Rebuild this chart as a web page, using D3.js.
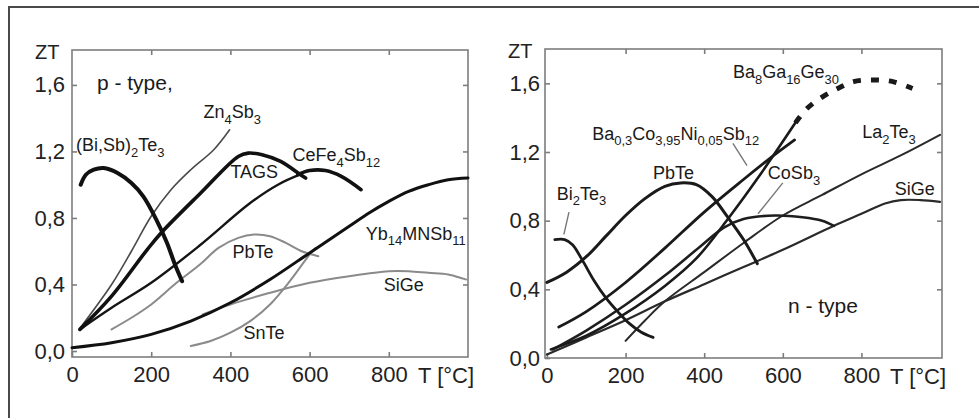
<!DOCTYPE html>
<html>
<head>
<meta charset="utf-8">
<script src="https://cdn.jsdelivr.net/npm/d3@7"></script>
<style>
  body { margin: 0; background: #fff; }
  svg { display: block; font-family: "Liberation Sans", Arial, sans-serif; }
</style>
</head>
<body>
<svg width="979" height="418"></svg>
<script>
// ---- data: [T in °C, ZT] ----
// p-type
const pBiSbTe = [[22,1.0],[35,1.06],[55,1.09],[80,1.1],[115,1.07],[150,1.01],[180,0.93],[215,0.78],[240,0.65],[260,0.52],[278,0.42]];
const pZn4Sb3 = [[18,0.13],[100,0.40],[150,0.60],[200,0.81],[250,0.97],[300,1.09],[358,1.21],[398,1.33]];
const pTAGS = [[20,0.13],[100,0.33],[190,0.61],[225,0.71],[325,0.95],[420,1.17],[445,1.19],[480,1.18],[527,1.14],[577,1.06],[590,1.04]];
const pCeFe4Sb12 = [[20,0.13],[100,0.26],[200,0.41],[320,0.63],[450,0.89],[520,1.0],[575,1.06]];
const pCeFe4Sb12High = [[570,1.06],[600,1.085],[640,1.085],[680,1.05],[730,0.97]];
const pPbTe = [[100,0.13],[150,0.20],[200,0.28],[264,0.41],[323,0.52],[370,0.62],[420,0.68],[460,0.70],[500,0.69],[540,0.65],[580,0.60],[622,0.57]];
const pSnTe = [[300,0.03],[350,0.06],[400,0.11],[450,0.18],[500,0.28],[550,0.42],[600,0.58],[615,0.62]];
const pSiGe = [[330,0.22],[400,0.28],[500,0.35],[600,0.41],[700,0.45],[800,0.48],[850,0.48],[900,0.47],[950,0.46],[995,0.43]];
const pYb14MnSb11 = [[0,0.02],[100,0.05],[200,0.10],[300,0.18],[400,0.29],[500,0.43],[600,0.59],[700,0.75],[750,0.83],[800,0.90],[850,0.96],[900,1.0],[950,1.03],[1000,1.04]];

// n-type
const nBi2Te3 = [[20,0.69],[45,0.69],[65,0.66],[90,0.57],[120,0.45],[150,0.35],[180,0.27],[210,0.20],[240,0.15],[270,0.12]];
const nPbTe = [[0,0.44],[50,0.50],[100,0.59],[150,0.71],[200,0.83],[250,0.93],[300,1.0],[340,1.02],[380,1.01],[420,0.94],[460,0.82],[500,0.69],[535,0.55]];
const nBaCoNiSb = [[30,0.18],[100,0.27],[200,0.44],[300,0.64],[400,0.85],[500,1.04],[560,1.15],[630,1.27]];
const nBaGaGe = [[10,0.05],[100,0.13],[200,0.26],[300,0.42],[380,0.58],[457,0.80],[540,1.06],[632,1.37]];
const nBaGaGeDotted = [[632,1.37],[660,1.45],[700,1.52],[740,1.57],[780,1.61],[830,1.62],[880,1.61],[930,1.57]];
const nCoSb3 = [[15,0.05],[100,0.16],[200,0.31],[300,0.48],[390,0.65],[450,0.76],[500,0.81],[580,0.83],[650,0.82],[700,0.80],[730,0.77]];
const nLa2Te3 = [[200,0.10],[250,0.22],[300,0.33],[400,0.50],[500,0.67],[600,0.83],[700,0.95],[800,1.07],[900,1.18],[1000,1.30]];
const nSiGe = [[0,0.02],[100,0.12],[200,0.22],[300,0.33],[400,0.43],[500,0.53],[600,0.63],[730,0.77],[800,0.84],[860,0.90],[900,0.92],[950,0.92],[1000,0.91]];

const xTicks = [0, 200, 400, 600, 800];
const yTicks = [0, 0.4, 0.8, 1.2, 1.6];

// labels: text ({..} = subscript), T, ZT at text start/baseline
const pLabels = [
  ['p - type,', 63, 1.57, 21],
  ['Zn{4}Sb{3}', 332, 1.40, 18],
  ['(Bi,Sb){2}Te{3}', 10, 1.20, 18],
  ['CeFe{4}Sb{12}', 557, 1.14, 18],
  ['TAGS', 400, 1.04, 18],
  ['Yb{14}MNSb{11}', 742, 0.67, 18],
  ['PbTe', 405, 0.56, 18],
  ['SiGe', 787, 0.36, 18],
  ['SnTe', 433, 0.07, 18]
];
const nLabels = [
  ['Ba{8}Ga{16}Ge{30}', 473, 1.63, 18],
  ['Ba{0,3}Co{3,95}Ni{0,05}Sb{12}', 115, 1.27, 18],
  ['La{2}Te{3}', 802, 1.28, 18],
  ['PbTe', 270, 1.04, 18],
  ['CoSb{3}', 562, 1.04, 18],
  ['Bi{2}Te{3}', 25, 0.92, 18],
  ['SiGe', 885, 0.95, 18],
  ['n - type', 613, 0.26, 21]
];
const nLeaders = [
  [[56,0.85],[43,0.72]],
  [[473,1.25],[509,1.12]],
  [[600,1.02],[537,0.84]]
];

const svg = d3.select('svg');

// page frame (top + left only)
svg.append('path')
  .attr('d', 'M9,418 L9,7 L979,7')
  .attr('fill', 'none')
  .attr('stroke', '#4a4a4a')
  .attr('stroke-width', 2);

function addLabel(g, str, x, y, size) {
  const t = g.append('text').attr('x', x).attr('y', y).attr('font-size', size).attr('fill', '#1a1a1a');
  const parts = str.split(/(\{[^}]*\})/).filter(s => s.length);
  let down = false;
  parts.forEach(p => {
    const isSub = p[0] === '{';
    const span = t.append('tspan');
    if (isSub && !down) { span.attr('dy', size * 0.3); down = true; }
    else if (!isSub && down) { span.attr('dy', -size * 0.3); down = false; }
    if (isSub) span.attr('font-size', size * 0.72).text(p.slice(1, -1));
    else span.text(p);
  });
}

function drawPanel(opt) {
  const x = d3.scaleLinear().domain(opt.xDom).range(opt.xRange);
  const y = d3.scaleLinear().domain(opt.yDom).range(opt.yRange);
  const g = svg.append('g');

  const line = d3.line()
    .x(d => x(d[0]))
    .y(d => y(d[1]))
    .curve(d3.curveCatmullRom.alpha(0.5));

  // frame
  g.append('rect')
    .attr('x', opt.xRange[0]).attr('y', opt.yRange[1])
    .attr('width', opt.xRange[1] - opt.xRange[0])
    .attr('height', opt.yRange[0] - opt.yRange[1])
    .attr('fill', '#fff')
    .attr('stroke', '#7d7d7d')
    .attr('stroke-width', 1.6);

  const fmt = d => d3.format('.1f')(d).replace('.', ',');

  const bottom = g.append('g')
    .attr('transform', `translate(0,${opt.yRange[0]})`)
    .call(d3.axisBottom(x).tickValues(xTicks).tickSizeInner(-5).tickSizeOuter(0).tickPadding(9));
  const left = g.append('g')
    .attr('transform', `translate(${opt.xRange[0]},0)`)
    .call(d3.axisLeft(y).tickValues(yTicks).tickFormat(fmt).tickSizeInner(-5).tickSizeOuter(0).tickPadding(opt.yPad));
  const top = g.append('g')
    .attr('transform', `translate(0,${opt.yRange[1]})`)
    .call(d3.axisTop(x).tickValues(xTicks.slice(1)).tickFormat('').tickSizeInner(-5).tickSizeOuter(0));
  const right = g.append('g')
    .attr('transform', `translate(${opt.xRange[1]},0)`)
    .call(d3.axisRight(y).tickValues(yTicks.slice(1)).tickFormat('').tickSizeInner(-5).tickSizeOuter(0));

  [bottom, left, top, right].forEach(a => {
    a.select('.domain').remove();
    a.selectAll('.tick line').attr('stroke', '#7d7d7d').attr('stroke-width', 1.6);
    a.selectAll('.tick text')
      .attr('font-size', 22)
      .attr('font-family', '"Liberation Sans", Arial, sans-serif')
      .attr('fill', '#222');
  });

  // axis titles
  g.append('text')
    .attr('x', opt.xRange[0] - 37).attr('y', opt.yRange[1] + 9)
    .attr('font-size', 20).attr('fill', '#222').text('ZT');
  g.append('text')
    .attr('x', opt.tX).attr('y', opt.yRange[0] + 26)
    .attr('font-size', 22).attr('fill', '#222').text('T [°C]');

  // curves
  g.selectAll('.curve')
    .data(opt.series)
    .enter()
    .append('path')
    .classed('curve', true)
    .attr('d', s => line(s.data))
    .attr('fill', 'none')
    .attr('stroke', s => s.color)
    .attr('stroke-width', s => s.width)
    .attr('stroke-dasharray', s => s.dash || null)
    .attr('stroke-linecap', s => s.dash ? 'butt' : 'round')
    .attr('stroke-linejoin', 'round');

  (opt.leaders || []).forEach(l => {
    g.append('path')
      .attr('d', d3.line().x(d => x(d[0])).y(d => y(d[1]))(l))
      .attr('stroke', '#777')
      .attr('stroke-width', 1.4)
      .attr('fill', 'none');
  });

  opt.labels.forEach(l => addLabel(g, l[0], x(l[1]), y(l[2]), l[3]));
}

drawPanel({
  xDom: [0, 1000], xRange: [72, 468],
  yDom: [-0.036, 1.81], yRange: [357, 50],
  yPad: 7, tX: 418,
  series: [
    { data: pSiGe, color: '#8a8a8a', width: 2 },
    { data: pSnTe, color: '#8a8a8a', width: 2 },
    { data: pPbTe, color: '#8a8a8a', width: 2 },
    { data: pZn4Sb3, color: '#4a4a4a', width: 1.6 },
    { data: pCeFe4Sb12, color: '#151515', width: 2.4 },
    { data: pYb14MnSb11, color: '#111', width: 3 },
    { data: pTAGS, color: '#111', width: 3.6 },
    { data: pCeFe4Sb12High, color: '#111', width: 3.6 },
    { data: pBiSbTe, color: '#111', width: 4 }
  ],
  labels: pLabels
});

drawPanel({
  xDom: [-5, 1005], xRange: [545, 942],
  yDom: [0, 1.8], yRange: [358, 49],
  yPad: 5, tX: 890,
  series: [
    { data: nSiGe, color: '#2a2a2a', width: 2.2 },
    { data: nLa2Te3, color: '#2a2a2a', width: 2 },
    { data: nCoSb3, color: '#1e1e1e', width: 2.6 },
    { data: nBaGaGe, color: '#1a1a1a', width: 2.6 },
    { data: nBaGaGeDotted, color: '#1a1a1a', width: 5, dash: '8 10' },
    { data: nBaCoNiSb, color: '#1a1a1a', width: 2.8 },
    { data: nPbTe, color: '#1a1a1a', width: 3 },
    { data: nBi2Te3, color: '#1a1a1a', width: 2.8 }
  ],
  leaders: nLeaders,
  labels: nLabels
});
</script>
</body>
</html>
